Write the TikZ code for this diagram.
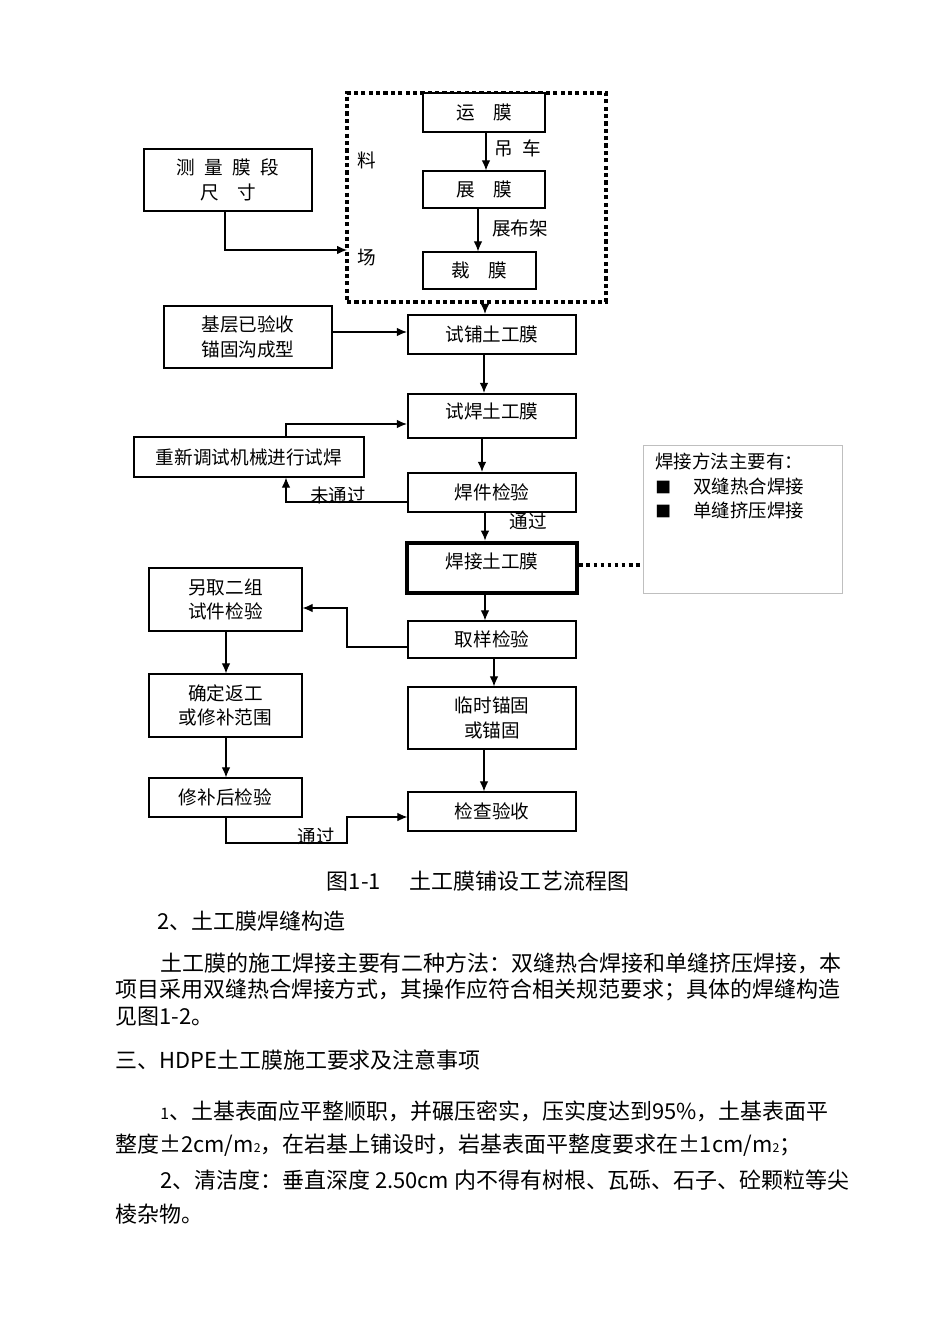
\documentclass[tikz,border=0pt]{standalone}
\usepackage{fontspec}
\setmainfont{Noto Sans CJK SC}
\usetikzlibrary{arrows.meta}

\begin{document}
\begin{tikzpicture}[x=0.02cm,y=-0.02cm,
  box/.style={draw,line width=0.7pt,inner sep=0pt,align=center,font=\fontsize{10.6}{14}\selectfont},
  heavy/.style={box,line width=1.3pt},
  frame/.style={draw,line width=2pt,dash pattern=on 2.4pt off 1.8pt,inner sep=0pt},
  flow/.style={-{Latex[length=2mm,width=1.7mm]},line width=0.6pt},
  lbl/.style={inner sep=0pt,font=\fontsize{10.6}{13}\selectfont},
  body/.style={anchor=west,inner sep=0pt,font=\fontsize{12.5}{15}\selectfont}]

  % white page
  \fill [white] (0,0) rectangle (950,1344);

  % material yard
  \node [frame,minimum width=5.18cm,minimum height=4.18cm] (liaochang) at (476.5,197.5) {};
  \node [box,fill=white,minimum width=2.44cm,minimum height=0.78cm] (yunmo) at (484,112.5) {运\hspace{1em}膜};
  \node [box,minimum width=2.44cm,minimum height=0.74cm] (zhanmo) at (484,189.5) {展\hspace{1em}膜};
  \node [box,minimum width=2.26cm,minimum height=0.74cm] (caimo) at (479.5,270.5) {裁\hspace{1em}膜};
  \node [lbl] (diaoche) at (518,148) {吊\hspace{0.5em}车};
  \node [lbl] (zhanbujia) at (520,228) {展布架};
  \node [lbl] (liao) at (367,160) {料};
  \node [lbl] (chang) at (367,258) {场};

  % left column
  \node [box,minimum width=3.36cm,minimum height=1.24cm] (celiang) at (228,180)
    {测\hspace{0.5em}量\hspace{0.5em}膜\hspace{0.5em}段\\尺\hspace{1em}寸};
  \node [box,minimum width=3.36cm,minimum height=1.24cm] (jiceng) at (248,337) {基层已验收\\锚固沟成型};
  \node [box,minimum width=4.6cm,minimum height=0.8cm] (chongxin) at (249,457) {重新调试机械进行试焊};
  \node [box,minimum width=3.06cm,minimum height=1.26cm] (lingqu) at (225.5,599.5) {另取二组\\试件检验};
  \node [box,minimum width=3.06cm,minimum height=1.26cm] (queding) at (225.5,705.5) {确定返工\\或修补范围};
  \node [box,minimum width=3.06cm,minimum height=0.78cm] (xiubu) at (225.5,797.5) {修补后检验};

  % main column
  \node [heavy,minimum width=3.36cm,minimum height=0.78cm] (shipu) at (492,334.5) {试铺土工膜};
  \node [heavy,minimum width=3.36cm,minimum height=0.88cm,text depth=0.2cm] (shihan) at (492,416) {试焊土工膜};
  \node [heavy,minimum width=3.36cm,minimum height=0.78cm] (hanjian) at (492,492.5) {焊件检验};
  \node [box,line width=2.8pt,minimum width=3.4cm,minimum height=1.0cm,text depth=0.3cm] (hanjie) at (492,568) {焊接土工膜};
  \node [box,minimum width=3.36cm,minimum height=0.74cm] (quyang) at (492,639.5) {取样检验};
  \node [box,minimum width=3.36cm,minimum height=1.24cm] (linshi) at (492,718) {临时锚固\\或锚固};
  \node [box,minimum width=3.36cm,minimum height=0.78cm] (jiancha) at (492,811.5) {检查验收};

  % welding methods
  \node [draw=black!25,line width=0.5pt,minimum width=3.98cm,minimum height=2.96cm] (fangfa) at (742.5,519) {};
  \node [anchor=north west,inner sep=0pt,align=left,font=\fontsize{10.5}{13.9}\selectfont] (fangfatext) at (655,453)
    {焊接方法主要有：\\{\small ■}\hspace{1.2em}双缝热合焊接\\{\small ■}\hspace{1.2em}单缝挤压焊接};

  % connectors
  \draw [flow] (yunmo.south -| 486,0) -- (zhanmo.north -| 486,0);
  \draw [flow] (zhanmo.south -| 478,0) -- (caimo.north -| 478,0);
  \coordinate (ruchang) at (347,250);
  \draw [flow] (celiang.south -| 225,0) |- (ruchang);
  \draw [flow] (liaochang.south -| 485,0) -- (shipu.north -| 485,0);
  \draw [flow] (jiceng.east |- 0,332) -- (shipu.west |- 0,332);
  \draw [flow] (shipu.south -| 484,0) -- (shihan.north -| 484,0);
  \draw [flow] (shihan.south -| 482,0) -- (hanjian.north -| 482,0);
  \draw [flow] (hanjian.west |- 0,502) -| (chongxin.south -| 286,0);
  \draw [flow] (chongxin.north -| 286,0) |- (shihan.west |- 0,424);
  \draw [flow] (hanjian.south -| 485,0) -- (hanjie.north -| 485,0);
  \draw [line width=2.2pt,dash pattern=on 2.2pt off 1.8pt] (hanjie.east |- 0,565) -- (fangfa.west |- 0,565);
  \draw [flow] (hanjie.south -| 485,0) -- (quyang.north -| 485,0);
  \draw [flow] (quyang.west |- 0,647) -| (347,608) -- (lingqu.east |- 0,608);
  \draw [flow] (lingqu.south -| 226,0) -- (queding.north -| 226,0);
  \draw [flow] (queding.south -| 226,0) -- (xiubu.north -| 226,0);
  \draw [flow] (quyang.south -| 494,0) -- (linshi.north -| 494,0);
  \draw [flow] (linshi.south -| 484,0) -- (jiancha.north -| 484,0);
  \draw [flow] (xiubu.south -| 226,0) |- (347,843) |- (jiancha.west |- 0,817);

  % connector labels
  \node [lbl] (weitongguo) at (338,495) {未通过};
  \node [lbl] (tongguoa) at (528,521) {通过};
  \node [lbl] (tongguob) at (316,836) {通过};

  % caption and text
  \node [inner sep=0pt,font=\fontsize{12.5}{15}\selectfont] (tuming) at (478,881) {图1-1\hspace{1.3em}土工膜铺设工艺流程图};
  \node [body] (hanfeng) at (157,921) {2、土工膜焊缝构造};
  \node [body] (duan1) at (160,963) {土工膜的施工焊接主要有二种方法：双缝热合焊接和单缝挤压焊接，本};
  \node [body] (duan2) at (115,990) {项目采用双缝热合焊接方式，其操作应符合相关规范要求；具体的焊缝构造};
  \node [body] (duan3) at (115,1017) {见图1-2。};
  \node [body] (yaoqiu) at (115,1060) {三、HDPE土工膜施工要求及注意事项};
  \node [body] (tiao1) at (160,1111) {{\fontsize{9}{9}\selectfont 1}、土基表面应平整顺职，并碾压密实，压实度达到95\%，土基表面平};
  \node [body] (tiao1b) at (115,1145) {整度±2cm/m{\fontsize{7}{7}\selectfont 2}，在岩基上铺设时，岩基表面平整度要求在±1cm/m{\fontsize{7}{7}\selectfont 2}；};
  \node [body] (tiao2) at (160,1180) {2、清洁度：垂直深度 2.50cm 内不得有树根、瓦砾、石子、砼颗粒等尖};
  \node [body] (tiao2b) at (115,1214) {棱杂物。};

\end{tikzpicture}
\end{document}
